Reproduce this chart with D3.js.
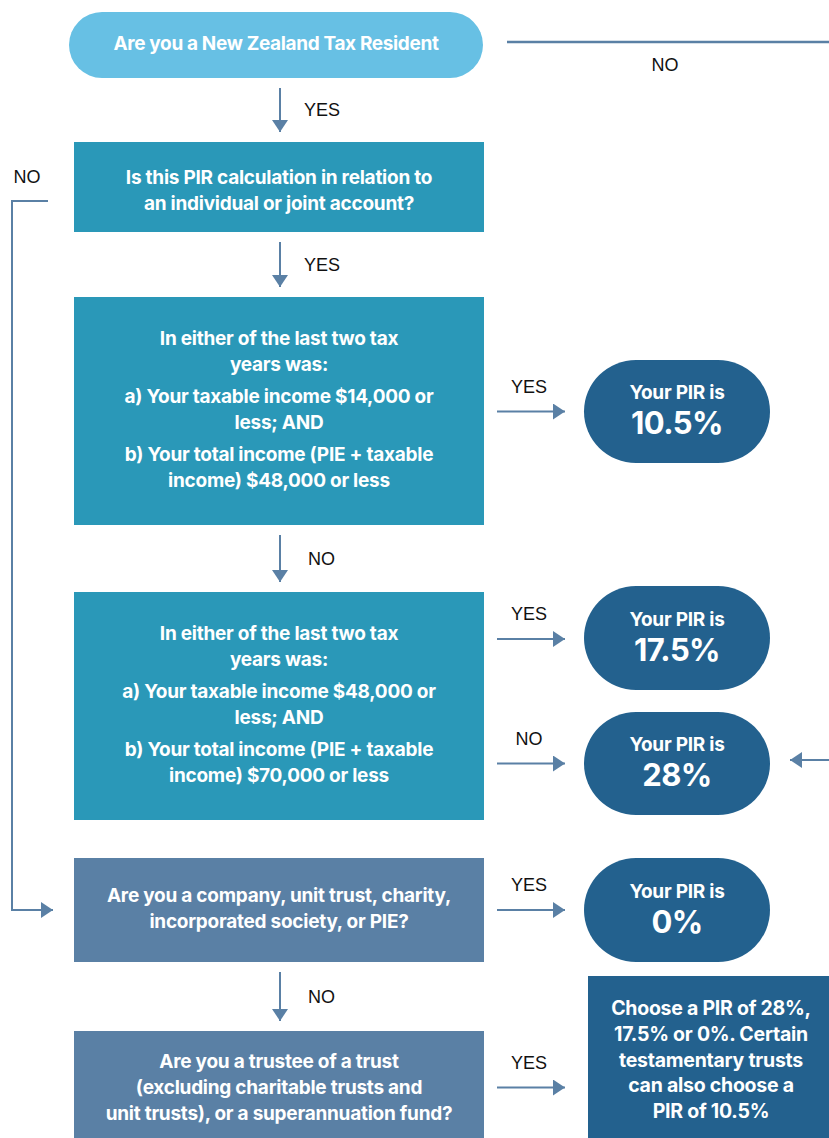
<!DOCTYPE html>
<html>
<head>
<meta charset="utf-8">
<script src="https://cdn.jsdelivr.net/npm/d3@7"></script>
<style>
  html, body { margin: 0; padding: 0; background: #fff; }
  svg { display: block; }
</style>
</head>
<body>
<div id="chart"></div>
<script>
// question boxes (text only, grouped into paragraphs)
const questions = [
  { id: 'resident', kind: 'start', paras: [['Are you a New Zealand Tax Resident']] },
  { id: 'individual', kind: 'q1', paras: [['Is this PIR calculation in relation to', 'an individual or joint account?']] },
  { id: 'low', kind: 'q1', paras: [['In either of the last two tax', 'years was:'], ['a) Your taxable income $14,000 or', 'less; AND'], ['b) Your total income (PIE + taxable', 'income) $48,000 or less']] },
  { id: 'mid', kind: 'q1', paras: [['In either of the last two tax', 'years was:'], ['a) Your taxable income $48,000 or', 'less; AND'], ['b) Your total income (PIE + taxable', 'income) $70,000 or less']] },
  { id: 'company', kind: 'q2', paras: [['Are you a company, unit trust, charity,', 'incorporated society, or PIE?']] },
  { id: 'trustee', kind: 'q2', paras: [['Are you a trustee of a trust', '(excluding charitable trusts and', 'unit trusts), or a superannuation fund?']] }
];

// outcomes
const rates = ['10.5%', '17.5%', '28%', '0%'];
const rateIds = ['r105', 'r175', 'r28', 'r0'];
const choiceLines = ['Choose a PIR of 28%,', '17.5% or 0%. Certain', 'testamentary trusts', 'can also choose a', 'PIR of 10.5%'];

// connections and their labels
const links = [
  { from: 'resident', to: 'individual', label: 'YES' },
  { from: 'individual', to: 'low', label: 'YES' },
  { from: 'low', to: 'mid', label: 'NO' },
  { from: 'company', to: 'trustee', label: 'NO' },
  { from: 'low', to: 'r105', label: 'YES' },
  { from: 'mid', to: 'r175', label: 'YES' },
  { from: 'mid', to: 'r28', label: 'NO' },
  { from: 'company', to: 'r0', label: 'YES' },
  { from: 'trustee', to: 'choice', label: 'YES' }
];

// ---- layout (pixels) ----
const W = 829, H = 1138;
const layout = {
  resident:   { x: 69,  y: 12,   w: 414, h: 66 },
  individual: { x: 74,  y: 142,  w: 410, h: 90 },
  low:        { x: 74,  y: 297,  w: 410, h: 228 },
  mid:        { x: 74,  y: 592,  w: 410, h: 228 },
  company:    { x: 74,  y: 858,  w: 410, h: 104 },
  trustee:    { x: 74,  y: 1031, w: 410, h: 114 },
  r105:       { x: 584, y: 360,  w: 186, h: 103 },
  r175:       { x: 584, y: 586,  w: 186, h: 104 },
  r28:        { x: 584, y: 712,  w: 186, h: 103 },
  r0:         { x: 584, y: 858,  w: 186, h: 104 },
  choice:     { x: 588, y: 976,  w: 245, h: 167 }
};
const fills = { start: '#67c0e4', q1: '#2a98b8', q2: '#5a80a5', out: '#23618e' };
const lineCol = '#5a80a5';
const font = 'Inter, "Noto Sans", sans-serif';
const labelFont = '"Liberation Sans", Arial, sans-serif';

const svg = d3.select('#chart').append('svg')
  .attr('width', W).attr('height', H)
  .style('font-family', font);

// arrow marker
svg.append('defs').append('marker')
  .attr('id', 'head')
  .attr('viewBox', '0 0 12 16')
  .attr('refX', 12).attr('refY', 8)
  .attr('markerUnits', 'userSpaceOnUse')
  .attr('markerWidth', 12).attr('markerHeight', 16)
  .attr('orient', 'auto')
  .append('path').attr('d', 'M0,0L12,8L0,16Z').attr('fill', lineCol);

// 1. question boxes
const qg = svg.selectAll('g.q').data(questions).enter().append('g').attr('class', 'q');
qg.append('rect')
  .attr('x', d => layout[d.id].x).attr('y', d => layout[d.id].y)
  .attr('width', d => layout[d.id].w).attr('height', d => layout[d.id].h)
  .attr('rx', d => d.kind === 'start' ? 33 : 0)
  .attr('fill', d => fills[d.kind]);

const lh = 26, pgap = 6;
qg.each(function(d) {
  const b = layout[d.id];
  const g = d3.select(this);
  let rows = [];
  let y = 0;
  d.paras.forEach((p, pi) => {
    if (pi > 0) y += pgap;
    p.forEach(t => { rows.push({ t, y }); y += lh; });
  });
  const total = y - lh;
  const cy = d.id === 'individual' ? b.y + b.h / 2 + 3 : (d.id === 'trustee' ? 1087 : b.y + b.h / 2 - 2);
  g.selectAll('text').data(rows).enter().append('text')
    .attr('x', b.x + b.w / 2)
    .attr('y', r => cy - total / 2 + r.y)
    .attr('text-anchor', 'middle')
    .attr('dominant-baseline', 'central')
    .attr('fill', '#fff')
    .attr('font-weight', 700)
    .attr('font-size', d.kind === 'start' ? 19 : 19)
    .attr('letter-spacing', d.kind === 'start' ? -0.35 : -0.25)
    .text(r => r.t);
});

// 2. rate pills
const rg = svg.selectAll('g.rate').data(rates).enter().append('g').attr('class', 'rate');
rg.append('rect')
  .attr('x', (d, i) => layout[rateIds[i]].x).attr('y', (d, i) => layout[rateIds[i]].y)
  .attr('width', (d, i) => layout[rateIds[i]].w).attr('height', (d, i) => layout[rateIds[i]].h)
  .attr('rx', 52)
  .attr('fill', fills.out);
rg.append('text')
  .attr('x', (d, i) => layout[rateIds[i]].x + layout[rateIds[i]].w / 2)
  .attr('y', (d, i) => layout[rateIds[i]].y + layout[rateIds[i]].h / 2 - 19)
  .attr('text-anchor', 'middle').attr('dominant-baseline', 'central')
  .attr('fill', '#fff').attr('font-weight', 700).attr('font-size', 19)
  .attr('letter-spacing', -0.25)
  .text('Your PIR is');
rg.append('text')
  .attr('x', (d, i) => layout[rateIds[i]].x + layout[rateIds[i]].w / 2)
  .attr('y', (d, i) => layout[rateIds[i]].y + layout[rateIds[i]].h / 2 + 11)
  .attr('text-anchor', 'middle').attr('dominant-baseline', 'central')
  .attr('fill', '#fff').attr('font-weight', 700).attr('font-size', 31)
  .attr('letter-spacing', -0.6)
  .text(d => d);

// 3. choice box
const cb = layout.choice;
svg.append('rect')
  .attr('x', cb.x).attr('y', cb.y).attr('width', cb.w).attr('height', cb.h)
  .attr('fill', fills.out);
svg.selectAll('text.choice').data(choiceLines).enter().append('text')
  .attr('class', 'choice')
  .attr('x', 711)
  .attr('y', (d, i) => 1008 + i * 25.8)
  .attr('text-anchor', 'middle').attr('dominant-baseline', 'central')
  .attr('fill', '#fff').attr('font-weight', 700).attr('font-size', 19.5)
  .attr('letter-spacing', -0.25)
  .text(d => d);

// 4. connectors
const arrowX = 280;
const addLabel = (x, y, t, anchor) => svg.append('text')
  .attr('x', x).attr('y', y)
  .attr('text-anchor', anchor || 'middle').attr('dominant-baseline', 'central')
  .attr('font-family', labelFont)
  .attr('font-size', 18).attr('fill', '#111')
  .text(t);

links.forEach(l => {
  const a = layout[l.from], b = layout[l.to];
  let pts, lx, ly, anchor = 'start';
  if (Math.abs((a.x + a.w / 2) - (b.x + b.w / 2)) < 20) {
    // vertical down
    const y0 = a.y + a.h + 10, y1 = b.y - 10;
    pts = [[arrowX, y0], [arrowX, y1]];
    lx = arrowX + 24; ly = (y0 + y1) / 2;
    if (l.label === 'NO') lx = arrowX + 28;
  } else {
    // horizontal right
    const cy = b.y + b.h / 2 + (l.to === 'choice' ? 28 : 0) - (l.to === 'r175' ? -1 : 0);
    pts = [[497, cy], [565, cy]];
    lx = 529; ly = cy - 25; anchor = 'middle';
  }
  svg.append('path')
    .attr('d', d3.line()(pts))
    .attr('stroke', lineCol).attr('stroke-width', 2).attr('fill', 'none')
    .attr('marker-end', 'url(#head)');
  addLabel(lx, ly, l.label, anchor);
});

// resident NO -> off to the right (continues to 28%)
svg.append('path')
  .attr('d', d3.line()([[507, 42], [W, 42]]))
  .attr('stroke', lineCol).attr('stroke-width', 2.5).attr('fill', 'none');
addLabel(665, 65, 'NO');
svg.append('path')
  .attr('d', d3.line()([[W, 760], [790, 760]]))
  .attr('stroke', lineCol).attr('stroke-width', 2).attr('fill', 'none')
  .attr('marker-end', 'url(#head)');

// individual NO -> loop down the left to company
svg.append('path')
  .attr('d', d3.line()([[48, 201], [12, 201], [12, 910], [53, 910]]))
  .attr('stroke', lineCol).attr('stroke-width', 2).attr('fill', 'none')
  .attr('marker-end', 'url(#head)');
addLabel(27, 177, 'NO');
</script>
</body>
</html>
